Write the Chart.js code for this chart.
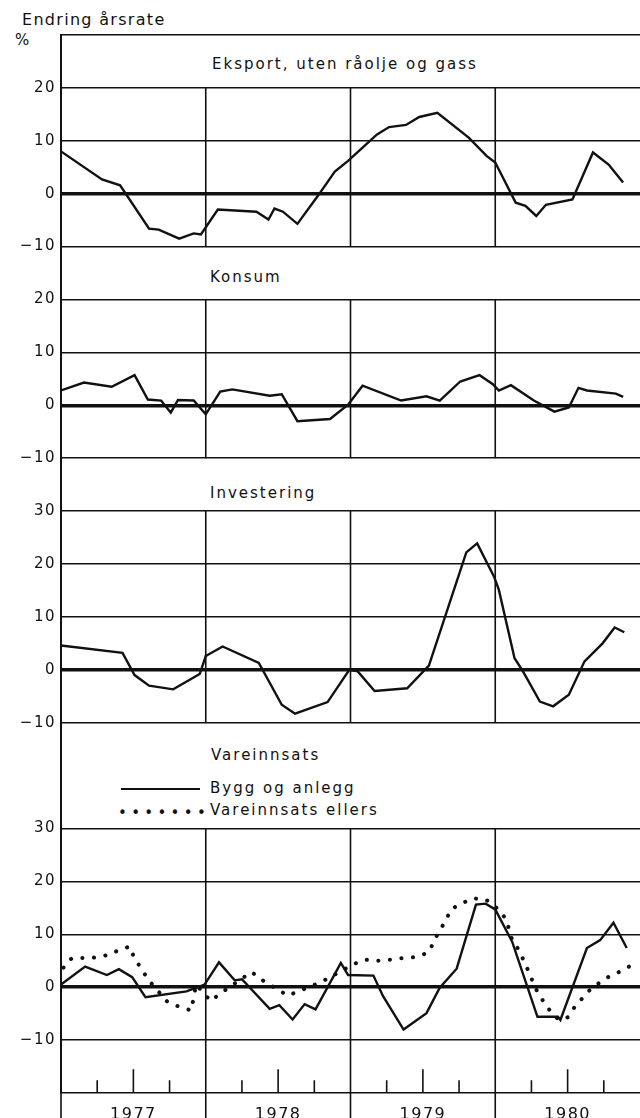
<!DOCTYPE html>
<html lang="no">
<head>
<meta charset="utf-8">
<title>Endring årsrate</title>
<script src="https://cdn.jsdelivr.net/npm/chart.js@4.4.1/dist/chart.umd.min.js"></script>
<style>
  html, body { margin: 0; padding: 0; background: #fff; }
  #wrap { position: relative; width: 640px; height: 1118px; overflow: hidden;
          font-family: "DejaVu Sans", sans-serif; color: #111; }
  #wrap canvas { position: absolute; left: 0; top: 0; }
  .txt { position: absolute; white-space: nowrap; line-height: 1; }
  .head { font-size: 16px; letter-spacing: 1.3px; }
  .title { font-size: 15px; letter-spacing: 2px; }
  .swatch { position: absolute; left: 121px; top: 788px; width: 79px; height: 0; border-top: 2.5px solid #111; }
</style>
</head>
<body>
<div id="wrap">
  <div class="txt head" style="left:22px; top:12px;">Endring årsrate</div>
  <div class="txt title" style="left:15px; top:33px;">%</div>
  <div class="txt title" style="left:212px; top:57px;">Eksport, uten råolje og gass</div>
  <div class="txt title" style="left:210px; top:270px;">Konsum</div>
  <div class="txt title" style="left:210px; top:486px;">Investering</div>
  <div class="txt title" style="left:211px; top:748px;">Vareinnsats</div>
  <div class="swatch"></div>
  <div class="txt title" style="left:210px; top:781px;">Bygg og anlegg</div>
  <div class="txt title" style="left:118px; top:806px; letter-spacing:4.3px;">•••••••</div>
  <div class="txt title" style="left:210px; top:803px;">Vareinnsats ellers</div>
  <canvas id="c1" width="640" height="1118"></canvas>
  <canvas id="c2" width="640" height="1118"></canvas>
  <canvas id="c3" width="640" height="1118"></canvas>
  <canvas id="c4" width="640" height="1118"></canvas>
</div>
<script>
// months counted from january 1977
const years = ['1977', '1978', '1979', '1980'];

const eksportMonths = [0, 3.4, 4.9, 7.3, 8.1, 9.8, 11, 11.6, 13, 16.2, 17.2, 17.7, 18.4, 19.6, 21.3, 22.7, 23.8, 25, 26.2, 27.2, 28.6, 29.7, 31.2, 33.8, 35.3, 36, 37.7, 38.5, 39.4, 40.2, 42.4, 44.1, 45.4, 46.6];
const eksportValues = [8, 2.7, 1.6, -6.6, -6.8, -8.5, -7.5, -7.7, -3, -3.4, -4.9, -2.8, -3.4, -5.7, -0.4, 4.2, 6.2, 8.7, 11.2, 12.6, 13, 14.5, 15.3, 10.6, 7.1, 5.9, -1.7, -2.3, -4.2, -2.1, -1.1, 7.8, 5.5, 2.1];

const konsumMonths = [0, 1.9, 4.2, 6.1, 7.2, 8.3, 9.1, 9.7, 11, 12, 13.2, 14.2, 17.3, 18.3, 19.6, 22.3, 23.8, 25, 28.2, 30.3, 31.4, 33.1, 34.7, 35.8, 36.3, 37.3, 39.2, 40.9, 42.1, 42.9, 43.6, 46, 46.6];
const konsumValues = [2.8, 4.3, 3.5, 5.7, 1.1, 0.9, -1.4, 1, 0.9, -1.7, 2.6, 3, 1.8, 2.1, -3, -2.6, 0.1, 3.7, 0.9, 1.7, 0.9, 4.5, 5.7, 4, 2.8, 3.8, 0.9, -1.2, -0.4, 3.3, 2.8, 2.2, 1.6];

const investMonths = [0, 5.1, 6.1, 7.3, 9.3, 11.5, 12, 13.4, 16.4, 18.3, 19.4, 22.1, 23.9, 24.6, 26, 28.7, 30.5, 33.6, 34.5, 35.9, 36.3, 37.6, 38.3, 39.7, 40.8, 42.1, 43.4, 44.9, 45.9, 46.7];
const investValues = [4.6, 3.2, -1, -3, -3.7, -0.8, 2.6, 4.4, 1.3, -6.6, -8.3, -6.1, 0, -0.3, -4, -3.5, 0.8, 22.2, 23.9, 17.6, 15.1, 2.2, -0.3, -6, -6.9, -4.7, 1.6, 5, 8, 7.1];

const byggMonths = [0, 2, 3.8, 4.8, 5.9, 7, 10.4, 11.9, 13.1, 14.4, 15, 17.3, 18.1, 19.2, 20.2, 21.1, 23.2, 23.8, 25.9, 26.7, 28.4, 30.3, 31.4, 32.8, 34.4, 35.2, 36, 37.4, 39.5, 41.2, 41.4, 43.6, 44.7, 45.8, 46.9];
const byggValues = [0.5, 3.9, 2.3, 3.4, 1.9, -1.9, -0.8, 0.5, 4.7, 1.3, 1.5, -4.1, -3.4, -6.1, -3.2, -4.2, 4.6, 2.3, 2.2, -1.7, -8, -4.9, -0.1, 3.5, 15.6, 15.8, 14.7, 8.6, -5.6, -5.6, -6.2, 7.4, 8.9, 12.2, 7.4];

const ellersMonths = [0.2, 0.9, 1.8, 2.8, 3.9, 4.7, 5.7, 6.1, 6.7, 7.2, 8.8, 9.8, 10.8, 11.2, 12.4, 13.2, 15.8, 16.5, 18.8, 21.6, 24.3, 25.2, 26.3, 27.3, 28.3, 29.4, 30.4, 30.9, 31.3, 31.9, 32.3, 33.2, 34.1, 35.2, 35.8, 36.6, 37.1, 37.4, 38, 38.4, 38.8, 39.2, 39.6, 40.2, 40.7, 41.3, 42, 42.5, 43.1, 43.7, 45, 45.8, 46.5, 47.1];
const ellersValues = [3.7, 5.5, 5.5, 5.6, 6.1, 6.9, 7.7, 5.4, 3.4, 1.5, -2.7, -3.7, -4.4, 0.5, -2.6, -1.2, 2.9, 1.6, -1.6, 1, 4.4, 5.2, 5, 5.2, 5.5, 5.7, 6.5, 8.4, 10.5, 12.5, 14.7, 15.8, 16.8, 16.6, 15.6, 14, 11.3, 8.9, 6.9, 4.8, 2.8, 0.5, -1.4, -3.3, -5, -6.2, -5.7, -4, -2.4, -0.8, 1.5, 2.4, 3.1, 3.9];

const ink = '#111';
const H = 1118;
const TOP = 35;      // top frame line
const STEP = 52.9;   // pixels per 10 percentage points
const AXIS_LEFT = 61;

const pts = (months, values) => months.map((m, i) => ({ x: m, y: values[i] }));
const fmt = v => v < 0 ? '\u2212' + Math.abs(v) : String(v);

const solid = (months, values) => ({
  data: pts(months, values), borderColor: ink, borderWidth: 2.4, pointRadius: 0, tension: 0
});
const dotted = (months, values) => ({
  data: pts(months, values), borderColor: ink, borderWidth: 4, pointRadius: 0, tension: 0,
  borderDash: [0.1, 11.5], borderCapStyle: 'round'
});

const panels = [
  { el: 'c1', min: -10, max: 30, steps: 4, gridTop: 30, labelTop: 20, vTop: 20, gridBottom: -10,
    datasets: [solid(eksportMonths, eksportValues)] },
  { el: 'c2', min: -10, max: 30, steps: 4, gridTop: 20, labelTop: 20, vTop: 20, gridBottom: -10,
    datasets: [solid(konsumMonths, konsumValues)] },
  { el: 'c3', min: -10, max: 40, steps: 5, gridTop: 30, labelTop: 30, vTop: 30, gridBottom: -10,
    datasets: [solid(investMonths, investValues)] },
  { el: 'c4', min: -20, max: 50, steps: 7, gridTop: 30, labelTop: 30, vTop: 30, gridBottom: -20, last: true,
    datasets: [solid(byggMonths, byggValues), dotted(ellersMonths, ellersValues)] }
];

// year lines, quarter ticks and the axis stubs below the bottom frame
const panelLines = {
  id: 'panelLines',
  beforeDraw(chart) {
    chart.ctx.letterSpacing = '1.5px';
  },
  beforeDatasetsDraw(chart, args, opts) {
    const { ctx, scales: { x, y } } = chart;
    const top = y.getPixelForValue(opts.vTop);
    const bottom = opts.last ? chart.height : y.getPixelForValue(opts.gridBottom);
    ctx.save();
    ctx.strokeStyle = ink;
    ctx.lineWidth = 1.6;
    ctx.beginPath();
    for (let yr = 1; yr < years.length; yr++) {
      const px = x.getPixelForValue(yr * 12);
      ctx.moveTo(px, top);
      ctx.lineTo(px, bottom);
    }
    if (opts.last) {
      const base = y.getPixelForValue(-20);
      ctx.moveTo(x.left, base);
      ctx.lineTo(x.left, chart.height);
      for (let yr = 0; yr < years.length; yr++) {
        for (let q = 1; q <= 3; q++) {
          const px = x.getPixelForValue(yr * 12 + q * 3);
          ctx.moveTo(px, base);
          ctx.lineTo(px, y.getPixelForValue(q === 2 ? -15.5 : -17.6));
        }
      }
    }
    ctx.stroke();
    ctx.restore();
  }
};

let areaTop = TOP;
panels.forEach(p => {
  const areaBottom = areaTop + p.steps * STEP;
  new Chart(document.getElementById(p.el), {
    type: 'line',
    data: { datasets: p.datasets },
    plugins: [panelLines],
    options: {
      responsive: false,
      animation: false,
      events: [],
      layout: { padding: { top: areaTop, bottom: p.last ? 0 : H - areaBottom, left: 0, right: 0 } },
      plugins: {
        legend: { display: false },
        tooltip: { enabled: false },
        panelLines: { vTop: p.vTop, gridBottom: p.gridBottom, last: !!p.last }
      },
      scales: {
        x: {
          type: 'linear',
          min: 0,
          max: 48,
          display: !!p.last,
          grid: { display: false },
          border: { display: false },
          afterBuildTicks: s => { s.ticks = years.map((yr, i) => ({ value: i * 12 + 6 })); },
          afterFit: s => {
            s.height = p.last ? H - areaBottom : 0;
            s.paddingLeft = 0;
            s.paddingRight = 0;
          },
          ticks: {
            autoSkip: false,
            maxRotation: 0,
            padding: 4,
            color: ink,
            font: { family: 'DejaVu Sans', size: 16 },
            callback: (v, i) => years[i]
          }
        },
        y: {
          min: p.min,
          max: p.max,
          afterFit: s => { s.width = AXIS_LEFT; s.paddingTop = 0; s.paddingBottom = 0; },
          border: { display: true, color: ink, width: 2 },
          grid: {
            drawTicks: false,
            color: c => (c.tick && c.tick.value <= p.gridTop && c.tick.value >= p.gridBottom) ? ink : 'rgba(0,0,0,0)',
            lineWidth: c => (c.tick && c.tick.value === 0) ? 3.5 : 1.6
          },
          ticks: {
            stepSize: 10,
            padding: 5,
            color: ink,
            font: { family: 'DejaVu Sans', size: 15 },
            callback: v => (v <= p.labelTop && v >= -10) ? fmt(v) : ''
          }
        }
      }
    }
  });
  areaTop = areaBottom;
});
</script>
</body>
</html>
